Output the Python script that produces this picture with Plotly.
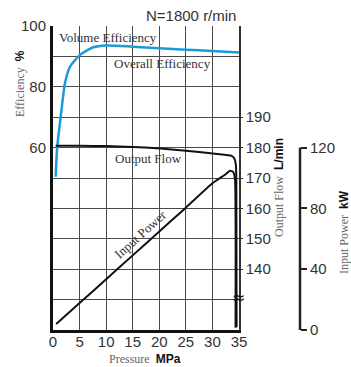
import plotly.graph_objects as go

# ---- data ----
pressure_ticks = [0, 5, 10, 15, 20, 25, 30, 35]

vol_p = [0.5, 0.8, 1.45, 2.25, 3.2, 5.1, 7.6, 10, 15, 20, 25, 30, 35]
vol_eff = [50.4, 60.3, 70.2, 81.2, 86.6, 90.5, 93.0, 93.6, 93.2, 92.7, 92.2, 91.8, 91.3]

flow_p = [0.5, 5, 10, 15, 19.6, 25, 30.9, 33.6, 34.1, 34.4, 34.5, 34.55]
flow_lpm = [180.6, 180.6, 180.5, 180.2, 179.8, 179.0, 177.9, 177.3, 176.5, 174.5, 170, 121]

power_p = [0.6, 5, 10, 15, 20, 25, 30, 32.5, 33.3, 33.9, 34.25, 34.35]
power_kw = [3.9, 17.7, 33.4, 49.1, 64.8, 80.5, 96.5, 102.5, 104.8, 104.0, 99, 1.5]

eff_ticks = [0, 10, 20, 30, 40, 50, 60, 70, 80, 90, 100]
eff_labels = ["", "", "", "", "", "", "60", "", "80", "", "100"]
flow_ticks = [140, 150, 160, 170, 180, 190]
power_ticks = [0, 40, 80, 120]

# ---- layout geometry (pixels) ----
W, H = 351, 367
L, R, T, B = 53, 0, 26, 37
PW, PH = W - L - R, H - T - B
def px(x):
    return (x - L) / PW
def py(y):
    return (H - B - y) / PH

tick_font = dict(family="Liberation Sans", size=15, color="#333")
serif = "Liberation Serif"
grid_col = "#4a4a4a"

fig = go.Figure()
fig.add_trace(go.Scatter(x=vol_p, y=vol_eff, mode="lines",
                         line=dict(color="#1a9bd7", width=2.5, shape="spline", smoothing=0.6),
                         xaxis="x", yaxis="y", showlegend=False, hoverinfo="skip"))
fig.add_trace(go.Scatter(x=flow_p, y=flow_lpm, mode="lines",
                         line=dict(color="#111", width=2, shape="spline", smoothing=0.4),
                         xaxis="x", yaxis="y2", showlegend=False, hoverinfo="skip"))
fig.add_trace(go.Scatter(x=power_p, y=power_kw, mode="lines",
                         line=dict(color="#111", width=2, shape="spline", smoothing=0.4),
                         xaxis="x", yaxis="y3", showlegend=False, hoverinfo="skip"))

fig.update_layout(
    template="none",
    width=W, height=H,
    margin=dict(l=L, r=R, t=T, b=B, pad=0, autoexpand=False),
    paper_bgcolor="white", plot_bgcolor="white",
    showlegend=False,
    xaxis=dict(domain=[0, px(239)], range=[0, 35], tickvals=pressure_ticks, automargin=False,
               showgrid=True, gridcolor=grid_col, gridwidth=1.4,
               showline=True, linecolor="#111", linewidth=3, zeroline=False,
               ticks="", tickfont=tick_font, ticklabelstandoff=-4, fixedrange=True),
    yaxis=dict(domain=[0, 1], range=[0, 100], tickvals=eff_ticks, ticktext=eff_labels,
               automargin=False,
               showgrid=True, gridcolor=grid_col, gridwidth=1.4,
               showline=True, linecolor="#111", linewidth=3, zeroline=False,
               ticks="", tickfont=tick_font, ticklabelstandoff=1),
    yaxis2=dict(overlaying="y", side="right", anchor="x", range=[120, 220], automargin=False,
                tickvals=flow_ticks, showgrid=False, zeroline=False,
                showline=True, linecolor="#333", linewidth=1.5,
                ticks="outside", ticklen=2, tickcolor="#333",
                tickfont=tick_font, ticklabelstandoff=0),
    yaxis3=dict(overlaying="y", range=[0, 200], anchor="free", position=px(300),
                automargin=False,
                side="right", tickvals=power_ticks, showgrid=False, zeroline=False,
                showline=False,
                ticks="outside", ticklen=6, tickwidth=1.5, tickcolor="#222",
                tickfont=tick_font, ticklabelstandoff=0),
    yaxis4=dict(overlaying="y", matches="y3", anchor="free", position=px(300),
                automargin=False,
                side="left", tickvals=power_ticks, showgrid=False, zeroline=False,
                showline=False, showticklabels=False,
                ticks="outside", ticklen=6, tickwidth=1.5, tickcolor="#222"),
    shapes=[dict(type="line", xref="paper", yref="y3", x0=px(300), x1=px(300),
                 y0=power_ticks[0], y1=power_ticks[-1], line=dict(color="#222", width=2.5))],
)

ann = []
def add(text, x, y, size=13, color="#333", angle=0, family=serif, xanchor="center", xref="paper", yref="paper"):
    ann.append(dict(text=text, x=x, y=y, xref=xref, yref=yref, showarrow=False,
                    font=dict(family=family, size=size, color=color), textangle=angle,
                    xanchor=xanchor, yanchor="middle"))

add("N=1800 r/min", px(238), py(15), size=15, family="Liberation Sans", color="#333", xanchor="right")
add("Volume Efficiency", px(107.5), py(37))
add("Overall Efficiency", px(162.5), py(63))
add("Output Flow", px(148), py(158))
add("Input Power", px(140), py(234), angle=-42)
add("Efficiency  <span style='font-family:Liberation Sans;font-weight:bold;color:#111'>%</span>",
    px(20), py(84), size=12, color="#666", angle=-90)
add("Output Flow  <span style='font-family:Liberation Sans;font-weight:bold;color:#111'>L/min</span>",
    px(279), py(188), size=12, color="#666", angle=-90)
add("Input Power  <span style='font-family:Liberation Sans;font-weight:bold;color:#111'>kW</span>",
    px(344), py(232), size=12, color="#666", angle=-90)
add("Pressure  <span style='font-family:Liberation Sans;font-weight:bold;color:#111'>MPa</span>",
    px(145), py(359), size=12, color="#666")
add("≈", px(238), py(297), size=16, color="#111", family="DejaVu Sans")
fig.update_layout(annotations=ann)

fig.write_html("out.html", config={"displayModeBar": False},
               post_script="document.body.style.margin='0';document.body.style.padding='0';")
